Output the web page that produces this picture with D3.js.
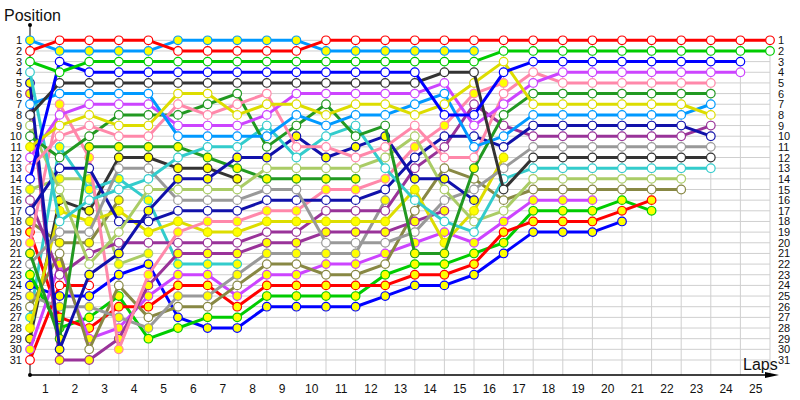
<!DOCTYPE html>
<meta charset="utf-8">
<script src="https://d3js.org/d3.v7.min.js"></script>
<style>
   body { margin: 0; background: #fff; }
   text { font-family: "Liberation Sans", Arial, sans-serif; }
</style>
<body>
<svg id="chart" width="800" height="400"></svg>
<script>
   // cars and their colours
   var cars = ["R1","L1","G1","B1","K1","Y1","L2","M1","P1","D1","C1","N1","E1","D2","A1","N2",
               "P2","Y2","U1","U2","A2","O1","M2","R2","G2","B2","C2","K2","E2","O2","X"];
   var carColors = ["#ff0000","#0099ff","#00cc00","#0000ff","#333333","#dddd00","#0099ff","#cc44ff","#ff88aa","#229922","#33cccc","#1111aa","#aacc66","#229922","#999999","#1111aa",
                    "#ff88aa","#dddd00","#993399","#993399","#999999","#888844","#cc44ff","#ff0000","#00cc00","#0000ff","#33cccc","#333333","#aacc66","#888844","#ff0000"];
   // cars drawn with yellow markers unless marked otherwise
   var yellowCars = ["L1","N1","D2","P2","Y2","U2","A2","M2","R2","G2","B2","C2","K2","E2","O2"];

   // running order after each lap ( * yellow marker, + cyan marker, - white marker )
   var lap0  = ["L1","R1","G1","C1","N1","U2","L2","K1","E1","D1","Y1*","M1","P1","B1","E2","U1","N2","O2","R2","P2","D2","A1","G2","B2","A2","O1","C2","Y2","K2","M2","X+"];
   var lap1  = ["R1","L1","B1","G1","K1","L2","P2","M1","Y1","P1","C2","D1","N2","E2","E1","K2","Y2","C1","A1","O2","O1","M2","U1","X+","B2","A2","R2","G2","D2","N1","U2"];
   var lap2  = ["R1","L1","G1","B1","K1","L2","M1","Y1","P1","D1","D2","P2","N2","E2","C2","C1","K2","Y2","A1","O2","U1","E1","N1","X+","B2","A2","G2","R2","M2","O1","U2"];
   var lap3  = ["R1","L1","G1","B1","K1","L2","M1","D1","Y1","P1","D2","K2","A1","C2","C1","O2","Y2","N2","E1","U1","N1","E2","B2","O1","G2","R2","A2","M2","U2","P2"];
   var lap4  = ["R1","L1","G1","B1","K1","L2","M1","D1","Y1","P1","D2","K2","A1","C1","E1","C2","N1","N2","Y2","U1","E2","B2","P2","U2","M2","R2","O1","A2","G2"];
   var lap5  = ["L1","R1","G1","B1","K1","Y1","P1","D1","M1","L2","D2","C1","K2","N1","E1","A1","N2","Y2","P2","U1","U2","C2","M2","R2","A2","O1","B2","G2"];
   var lap6  = ["L1","R1","G1","B1","K1","Y1","D1","P1","M1","L2","C1","D2","K2","N1","E1","A1","N2","P2","Y2","U1","U2","C2","M2","R2","A2","O1","G2","B2"];
   var lap7  = ["L1","R1","G1","B1","K1","D1","P1","Y1","M1","L2","C1","N1","D2","K2","E1","A1","N2","P2","Y2","U1","U2","C2","A2","O1","M2","R2","G2","B2"];
   var lap8  = ["L1","R1","G1","B1","K1","P1","Y1","M1","C1","L2","D1","N1","E1","D2","A1","N2","P2","Y2","U1","U2","A2","O1","M2","R2","G2","B2"];
   var lap9  = ["L1","R1","G1","B1","K1","M1","Y1","L2","D1","N1","P1","C1","E1","D2","A1","N2","P2","Y2","U1","U2","A2","O1","M2","R2","G2","B2"];
   var lap10 = ["R1","L1","G1","B1","K1","M1","D1","Y1","L2","C1","P1","N1","E1","D2","P2","N2","U1","Y2","U2","A1","A2","M2","O1","R2","G2","B2"];
   var lap11 = ["R1","L1","G1","B1","K1","M1","Y1","L2","C1","D1","N1","P1","E1","D2","P2","N2","U1","Y2","U2","A1","A2","M2","O1","R2","G2","B2"];
   var lap12 = ["R1","L1","G1","B1","K1","M1","Y1","L2","D1","N1","P1","E1","C1","P2","N2","A2","U1","Y2","U2","A1","M2","O1","G2","R2","B2"];
   var lap13 = ["R1","L1","G1","B1","K1","M1","L2","Y1","P1","E1","P2","N2","U1","N1","Y2","C1","O1","U2","A1","M2","D1*","G2","R2","B2"];
   var lap14 = ["R1","L1","G1","K1","M1","L2","Y1","B1","P2","N2","U1","P1","O1","N1","E1","A1","U2","C1","M2","Y2","D1*","G2","R2","B2"];
   var lap15 = ["R1","L1","G1","K1","Y1","P2","U1","B1","M1","N2","L2","P1","D1*","O1","A1","N1","Y2","E1","C1","M2","G2","R2","B2"];
   var lap16 = ["R1","G1","Y1","B1","P2","P1","M1","D1","U1","L2","N2","Y2","A1","C1","K1","O1","E1","M2","R2","G2","B2"];
   var lap17 = ["R1","G1","B1","P1","M1","D1","Y1","L2","N2","U1","A1","K1","C1","E1","O1","M2","G2","R2","B2"];
   var lap18 = ["R1","G1","B1","M1","P1","D1","Y1","L2","N2","U1","A1","K1","C1","E1","O1","M2","G2","R2","B2"];
   var lap19 = ["R1","G1","B1","M1","P1","D1","Y1","L2","N2","U1","A1","K1","C1","E1","O1","M2","G2","R2","B2"];
   var lap20 = ["R1","G1","B1","M1","P1","D1","Y1","L2","N2","U1","A1","K1","C1","E1","O1","G2","R2","B2"];
   var lap21 = ["R1","G1","B1","M1","P1","D1","Y1","L2","N2","U1","A1","K1","C1","E1","O1","R2","G2"];
   var lap22 = ["R1","G1","B1","M1","P1","D1","Y1","L2","N2","U1","A1","K1","C1","E1","O1"];
   var lap23 = ["R1","G1","B1","M1","P1","D1","L2","Y1","U1","N2","A1","K1","C1"];
   var lap24 = ["R1","G1","B1","M1"];
   var lap25 = ["R1","G1"];

   var laps = [lap0, lap1, lap2, lap3, lap4, lap5, lap6, lap7, lap8, lap9, lap10, lap11, lap12,
               lap13, lap14, lap15, lap16, lap17, lap18, lap19, lap20, lap21, lap22, lap23, lap24, lap25];
   var positions = d3.range(1, 32);
   var lapNumbers = d3.range(1, 26);

   var svg = d3.select("#chart");

   var x = d3.scaleLinear().domain([0, 25]).range([30, 770]);
   var y = d3.scaleLinear().domain([1, 31]).range([40.3, 360]);
   var axisY = 375;

   // build one series per car
   var series = cars.map(function (c, i) {
      var pts = [];
      laps.forEach(function (order, lap) {
         order.forEach(function (entry, idx) {
            if (entry.replace(/[*+\-]/, "") !== c) return;
            var mark = entry.slice(2);
            var fill = yellowCars.indexOf(c) >= 0 ? "#ffff00" : "#ffffff";
            if (mark === "*") fill = "#ffff00";
            if (mark === "+") fill = "#33dddd";
            if (mark === "-") fill = "#ffffff";
            pts.push({ lap: lap, pos: idx + 1, fill: fill });
         });
      });
      return { car: c, color: carColors[i], points: pts };
   });

   // grid
   var grid = svg.append("g");
   grid.selectAll("line.h")
      .data(positions)
      .enter().append("line")
      .attr("x1", x(0)).attr("x2", x(25))
      .attr("y1", function (d) { return y(d) }).attr("y2", function (d) { return y(d) })
      .attr("stroke", "#cfcfcf").attr("stroke-width", 1);
   grid.selectAll("line.v")
      .data(lapNumbers)
      .enter().append("line")
      .attr("x1", function (d) { return x(d) }).attr("x2", function (d) { return x(d) })
      .attr("y1", y(1)).attr("y2", axisY)
      .attr("stroke", "#cfcfcf").attr("stroke-width", 1);

   // axes
   svg.append("line").attr("x1", 30).attr("x2", 30).attr("y1", axisY).attr("y2", 25)
      .attr("stroke", "#000").attr("stroke-width", 1);
   svg.append("line").attr("x1", 30).attr("x2", 770).attr("y1", axisY).attr("y2", axisY)
      .attr("stroke", "#000").attr("stroke-width", 1.5);
   svg.append("path").attr("d", "M765,372 L779,375 L765,378 Z").attr("fill", "#000");
   svg.append("circle").attr("cx", 30).attr("cy", 25).attr("r", 2).attr("fill", "#000");
   svg.append("circle").attr("cx", 30).attr("cy", axisY).attr("r", 2).attr("fill", "#000");

   var left = svg.append("g").attr("transform", "translate(30,0)")
      .call(d3.axisLeft(y).tickValues(positions).tickSize(0).tickPadding(8));
   var right = svg.append("g").attr("transform", "translate(770,0)")
      .call(d3.axisRight(y).tickValues(positions).tickSize(0).tickPadding(8));
   var bottom = svg.append("g").attr("transform", "translate(0," + axisY + ")")
      .call(d3.axisBottom(x).tickValues(lapNumbers.map(function (d) { return d - 0.5 }))
         .tickFormat(function (d) { return d + 0.5 }).tickSize(0).tickPadding(9));
   [left, right, bottom].forEach(function (g) {
      g.select(".domain").remove();
      g.selectAll("text").attr("font-size", 11).attr("fill", "#111")
         .style("font-family", "'Liberation Sans', Arial, sans-serif");
   });
   bottom.selectAll("text").attr("font-size", 12);

   svg.append("text").attr("x", 4).attr("y", 21).attr("font-size", 16).attr("fill", "#111").text("Position");
   svg.append("text").attr("x", 743).attr("y", 370).attr("font-size", 16).attr("fill", "#111").text("Laps");

   // lines then markers, car by car
   var line = d3.line()
      .x(function (d) { return x(d.lap) })
      .y(function (d) { return y(d.pos) });

   var groups = svg.append("g").selectAll("g")
      .data(series.slice().reverse())
      .enter().append("g");

   groups.append("path")
      .attr("d", function (d) { return line(d.points) })
      .attr("fill", "none")
      .attr("stroke", function (d) { return d.color })
      .attr("stroke-width", 3)
      .attr("stroke-linejoin", "round");

   groups.selectAll("circle")
      .data(function (d) { return d.points.map(function (p) { return Object.assign({ color: d.color }, p) }) })
      .enter().append("circle")
      .attr("cx", function (d) { return x(d.lap) })
      .attr("cy", function (d) { return y(d.pos) })
      .attr("r", 4.3)
      .attr("fill", function (d) { return d.fill })
      .attr("stroke", function (d) { return d.color })
      .attr("stroke-width", 1.2);
</script>
</body>
